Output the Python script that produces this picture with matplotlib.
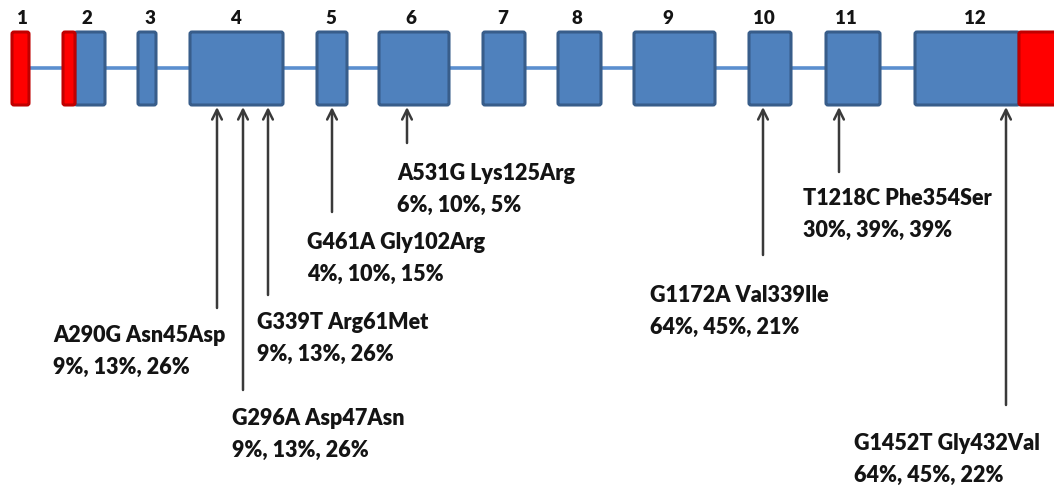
import matplotlib
matplotlib.use("Agg")
import matplotlib.pyplot as plt
from matplotlib.patches import FancyBboxPatch

# Exon layout along the gene (drawing units), coding part in blue, UTR in red
exon_labels = ["1", "2", "3", "4", "5", "6", "7", "8", "9", "10", "11", "12"]
exon_starts = [12, 75, 138, 190, 317, 379, 483, 558, 634, 749, 826, 915]
exon_ends = [29, 105, 156, 283, 347, 449, 525, 601, 715, 791, 880, 1019]
utr_segments = [(12, 29), (63, 75), (1019, 1060)]

# Variants: position on gene, label, allele frequencies
var_pos = [217, 243, 268, 332, 407, 763, 839, 1006]
var_names = ["A290G Asn45Asp", "G296A Asp47Asn", "G339T Arg61Met",
             "G461A Gly102Arg", "A531G Lys125Arg", "G1172A Val339Ile",
             "T1218C Phe354Ser", "G1452T Gly432Val"]
var_freqs = ["9%, 13%, 26%", "9%, 13%, 26%", "9%, 13%, 26%",
             "4%, 10%, 15%", "6%, 10%, 5%", "64%, 45%, 21%",
             "30%, 39%, 39%", "64%, 45%, 22%"]
# arrow tail depth and label anchor (left x, first-line centre y)
var_tail = [308, 390, 295, 212, 143, 255, 172, 405]
var_text_x = [53, 232, 257, 307, 397, 650, 803, 854]
var_text_y = [335, 418, 322, 242, 173, 295, 198, 443]

W, H = 1054, 494
fig = plt.figure(figsize=(W / 100, H / 100), dpi=100)
ax = fig.add_axes([0, 0, 1, 1])
ax.set_xlim(0, W)
ax.set_ylim(H, 0)
ax.axis("off")

top, bottom = 32, 105
mid = 68
blue_fill, blue_edge = "#4F81BD", "#385D8A"
red_fill, red_edge = "#FF0000", "#C00000"
txt_color = "#141414"

# intron backbone
ax.plot([exon_ends[0], exon_starts[-1]], [mid, mid], color="#5B8FCF", lw=2.6,
        solid_capstyle="butt", zorder=1)

def box(x0, x1, fc, ec):
    p = FancyBboxPatch((x0, top), x1 - x0, bottom - top,
                       boxstyle="round,pad=0,rounding_size=2",
                       fc=fc, ec=ec, lw=2.2, zorder=2)
    ax.add_patch(p)

for i, (s, e) in enumerate(zip(exon_starts, exon_ends)):
    if i == 0:
        continue
    box(s, e, blue_fill, blue_edge)
for s, e in utr_segments:
    box(s, e, red_fill, red_edge)

label_x = [22, 87, 150, 236, 331, 411, 503, 577, 668, 764, 846, 975]
for lab, lx in zip(exon_labels, label_x):
    ax.text(lx, 18, lab, ha="center", va="center", fontsize=13.5,
            fontweight="heavy", family="Lato", color=txt_color)

for x, tail, name, freq, tx, ty in zip(var_pos, var_tail, var_names,
                                       var_freqs, var_text_x, var_text_y):
    ax.annotate("", xy=(x, bottom + 2), xytext=(x, tail),
                arrowprops=dict(arrowstyle="->,head_length=0.7,head_width=0.35",
                                color="#3a3a3a", lw=1.8,
                                shrinkA=0, shrinkB=0))
    ax.text(tx, ty, name, ha="left", va="center", fontsize=15.5,
            fontweight="heavy", family="Lato", color=txt_color)
    ax.text(tx, ty + 32, freq, ha="left", va="center", fontsize=15.5,
            fontweight="heavy", family="Lato", color=txt_color)

fig.savefig("out.png", dpi=100)
